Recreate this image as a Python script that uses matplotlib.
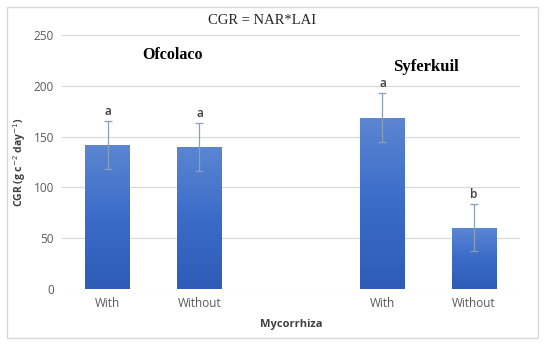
import matplotlib
matplotlib.use("Agg")
import matplotlib.pyplot as plt
import numpy as np
from matplotlib.patches import Rectangle
from matplotlib.colors import LinearSegmentedColormap

categories = ["With", "Without", "", "With", "Without"]
values = [141.5, 140.0, None, 168.5, 60.5]
errors = [23.5, 23.5, None, 24.0, 23.5]
letters = ["a", "a", "", "a", "b"]
yticks = [0, 50, 100, 150, 200, 250]

fig = plt.figure(figsize=(5.5, 3.45), dpi=100)
ax = fig.add_axes([0.113, 0.162, 0.832, 0.737])

# figure border
fig.patches.append(Rectangle((0.013, 0.02), 0.965, 0.96, transform=fig.transFigure,
                             fill=False, edgecolor="#d9d9d9", linewidth=1.0))

x = np.arange(len(categories))
width = 0.49
tick_col = "#595959"
grad = np.linspace(0, 1, 256).reshape(-1, 1)
cmap = LinearSegmentedColormap.from_list("g", ["#2e5cb6", "#3a6cc8", "#5c86d2"])

for xi, v, e, l in zip(x, values, errors, letters):
    if v is None:
        continue
    bar = ax.bar(xi, v, width=width, color="#4472c4", zorder=2)[0]
    im = ax.imshow(grad, extent=[xi - width / 2, xi + width / 2, 0, v], origin="lower",
                   cmap=cmap, aspect="auto", zorder=2.5)
    im.set_clip_path(bar)
    ax.errorbar(xi, v, yerr=e, fmt="none", ecolor="#8c9fb8", elinewidth=0.9,
                capsize=3, capthick=0.9, zorder=3)
    ax.text(xi, v + e + 3, l, ha="center", va="bottom", fontsize=8.5,
            color="#404040", family="Open Sans", fontweight="semibold")

ax.set_xlim(-0.5, len(categories) - 0.5)
ax.set_ylim(0, 250)
ax.set_yticks(yticks)
ax.set_xticks([0, 1, 3, 4])
ax.set_xticklabels([categories[i] for i in [0, 1, 3, 4]])
ax.tick_params(axis="both", length=0, labelsize=8.5, colors=tick_col, pad=6)
for lab in ax.get_xticklabels() + ax.get_yticklabels():
    lab.set_family("Open Sans")
ax.grid(axis="y", color="#d9d9d9", linewidth=0.8, zorder=0)
ax.set_axisbelow(True)
for s in ax.spines.values():
    s.set_visible(False)

ax.set_ylabel("CGR (g c$^{-2}$ day$^{-1}$)", fontsize=7.5, fontweight="bold",
              color="#404040", family="Open Sans", labelpad=4)
ax.set_xlabel("Mycorrhiza", fontsize=8, fontweight="bold", color="#404040",
              family="Open Sans", labelpad=6)

ax.text(0.71, 230, "Ofcolaco", ha="center", va="center", fontsize=11.5,
        fontweight="bold", family="Liberation Serif", color="black")
ax.text(3.48, 218.5, "Syferkuil", ha="center", va="center", fontsize=12,
        fontweight="bold", family="Liberation Serif", color="black")

fig.text(0.477, 0.942, "CGR = NAR*LAI", ha="center", va="center", fontsize=10.5,
         family="Liberation Serif", color="#262626")

fig.savefig("out.png", dpi=100)
